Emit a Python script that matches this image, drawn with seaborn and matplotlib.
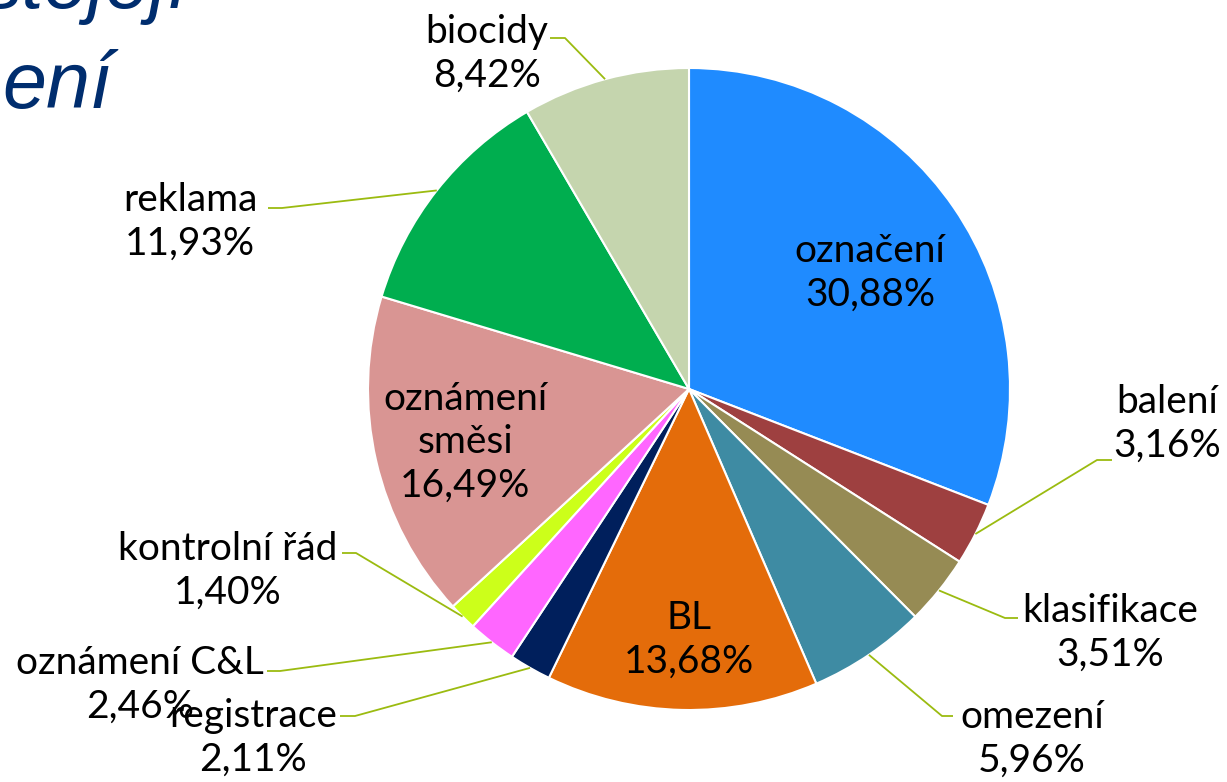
import numpy as np
import matplotlib.pyplot as plt
import seaborn as sns

categories = ['označení', 'balení', 'klasifikace', 'omezení', 'BL', 'registrace',
              'oznámení C&L', 'kontrolní řád', 'oznámení\nsměsi', 'reklama', 'biocidy']
shares = [30.88, 3.16, 3.51, 5.96, 13.68, 2.11, 2.46, 1.40, 16.49, 11.93, 8.42]
colors = ['#1F8BFF', '#9E4040', '#968B54', '#3E8BA3', '#E46C0A', '#001F5C',
          '#FF66FF', '#CCFF1A', '#D99593', '#00AE4F', '#C5D5AE']

# label centres (pixels from top-left)
label_pos = [(870, 273), (1167, 424), (1110, 633), (1032, 739), (689, 640), (253, 738),
             (140, 685), (228, 571), (465, 442), (190, 222), (487, 54)]
# leader lines: where they leave the text and where they bend (None = inside label)
leader_start = [None, (1112, 460), (1018, 618), (953, 716), None, (340, 716),
                (267, 671), (342, 553), None, (268, 208), (550, 38)]
leader_knee = [None, (1097, 460), (1005, 618), (942, 716), None, (355, 716),
               (280, 671), (356, 553), None, (282, 208), (565, 38)]

W, H = 1227, 782
cx, cy, R = 689, 389, 321

sns.set_theme(style='white')
plt.rcParams['font.family'] = ['Lato', 'DejaVu Sans']

fig = plt.figure(figsize=(W / 100, H / 100), dpi=100)
ax = fig.add_axes([0, 0, 1, 1])

wedges, _ = ax.pie(shares, colors=colors, startangle=90, counterclock=False,
                   center=(cx, H - cy), radius=R,
                   wedgeprops=dict(edgecolor='white', linewidth=1.5))
ax.set_xlim(0, W)
ax.set_ylim(0, H)
ax.set_aspect('equal')
ax.axis('off')

fs = 28
for w, name, val, pos, st, kn in zip(wedges, categories, shares, label_pos,
                                     leader_start, leader_knee):
    txt = f"{name}\n{val:.2f}%".replace('.', ',')
    ax.text(pos[0], H - pos[1], txt, ha='center', va='center', fontsize=fs,
            linespacing=1.25, color='black')
    if st is None:
        continue
    ang = np.deg2rad((w.theta1 + w.theta2) / 2)
    ex, ey = cx + R * np.cos(ang), (H - cy) + R * np.sin(ang)
    ax.plot([st[0], kn[0], ex], [H - st[1], H - kn[1], ey],
            color='#9BBB10', lw=1.3, solid_capstyle='butt')

# cropped slide title at top left
ax.text(190, H - 8, 'stojejí', ha='right', va='baseline', fontsize=57,
        style='italic', color='#002D6E', family='Liberation Sans')
ax.text(112, H - 108, 'ení', ha='right', va='baseline', fontsize=57,
        style='italic', color='#002D6E', family='Liberation Sans')

fig.savefig('out.png', dpi=100)
